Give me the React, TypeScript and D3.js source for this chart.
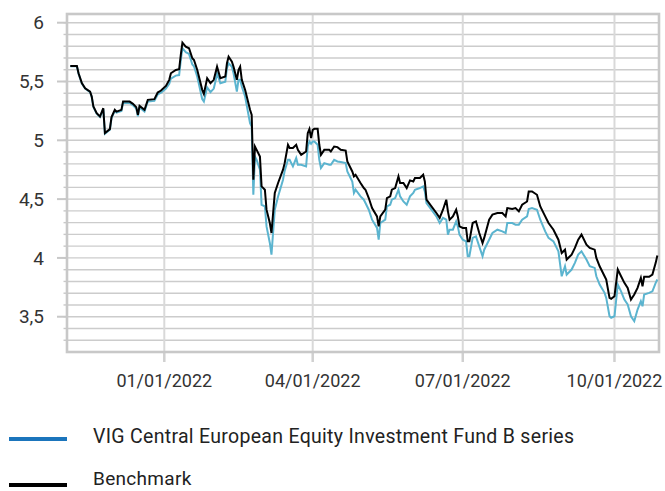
import React from "react";
import * as d3 from "d3";

const dates: string[] = [
"2021-11-05","2021-11-09","2021-11-10","2021-11-12","2021-11-14","2021-11-17","2021-11-18","2021-11-19","2021-11-21","2021-11-23",
"2021-11-25","2021-11-26","2021-11-29","2021-11-30","2021-12-02","2021-12-03","2021-12-06","2021-12-07","2021-12-11","2021-12-13",
"2021-12-15","2021-12-16","2021-12-17","2021-12-20","2021-12-22","2021-12-26","2021-12-28","2021-12-30","2022-01-02","2022-01-04",
"2022-01-05","2022-01-08","2022-01-10","2022-01-11","2022-01-12","2022-01-14","2022-01-16","2022-01-18","2022-01-19","2022-01-21",
"2022-01-24","2022-01-25","2022-01-27","2022-01-29","2022-01-31","2022-02-01","2022-02-02","2022-02-04","2022-02-07","2022-02-08",
"2022-02-09","2022-02-11","2022-02-12","2022-02-14","2022-02-15","2022-02-16","2022-02-17","2022-02-19","2022-02-22","2022-02-23",
"2022-02-24","2022-02-25","2022-02-26","2022-02-28","2022-03-01","2022-03-03","2022-03-04","2022-03-06","2022-03-07","2022-03-09",
"2022-03-11","2022-03-14","2022-03-15","2022-03-17","2022-03-18","2022-03-20","2022-03-22","2022-03-23","2022-03-25","2022-03-28",
"2022-03-29","2022-03-30","2022-03-31","2022-04-01","2022-04-02","2022-04-04","2022-04-05","2022-04-06","2022-04-08","2022-04-11",
"2022-04-12","2022-04-14","2022-04-16","2022-04-18","2022-04-21","2022-04-22","2022-04-25","2022-04-26","2022-04-27","2022-04-30",
"2022-05-02","2022-05-03","2022-05-05","2022-05-07","2022-05-10","2022-05-11","2022-05-12","2022-05-15","2022-05-16","2022-05-18",
"2022-05-19","2022-05-21","2022-05-23","2022-05-24","2022-05-26","2022-05-28","2022-05-30","2022-06-01","2022-06-02","2022-06-05",
"2022-06-07","2022-06-08","2022-06-09","2022-06-12","2022-06-15","2022-06-17","2022-06-19","2022-06-21","2022-06-22","2022-06-23",
"2022-06-25","2022-06-27","2022-06-28","2022-06-29","2022-07-01","2022-07-03","2022-07-04","2022-07-05","2022-07-07","2022-07-09",
"2022-07-11","2022-07-13","2022-07-14","2022-07-17","2022-07-19","2022-07-22","2022-07-25","2022-07-27","2022-07-28","2022-07-31",
"2022-08-02","2022-08-04","2022-08-06","2022-08-09","2022-08-10","2022-08-12","2022-08-15","2022-08-17","2022-08-20","2022-08-22",
"2022-08-25","2022-08-28","2022-08-30","2022-09-01","2022-09-02","2022-09-05","2022-09-07","2022-09-09","2022-09-11","2022-09-14",
"2022-09-16","2022-09-19","2022-09-20","2022-09-22","2022-09-25","2022-09-26","2022-09-28","2022-09-29","2022-10-01","2022-10-03",
"2022-10-05","2022-10-07","2022-10-09","2022-10-11","2022-10-13","2022-10-15","2022-10-17","2022-10-18","2022-10-19","2022-10-22",
"2022-10-24","2022-10-26","2022-10-27"
];

const benchmark: number[] = [
5.632,5.632,5.570,5.486,5.443,5.414,5.372,5.287,5.231,5.202,
5.273,5.061,5.095,5.197,5.259,5.244,5.259,5.329,5.329,5.310,
5.282,5.216,5.293,5.259,5.344,5.350,5.406,5.423,5.463,5.514,
5.570,5.598,5.604,5.726,5.830,5.796,5.783,5.698,5.683,5.598,
5.429,5.395,5.528,5.486,5.514,5.570,5.626,5.528,5.542,5.655,
5.711,5.669,5.626,5.514,5.598,5.626,5.514,5.429,5.259,5.216,
4.665,4.947,4.919,4.862,4.608,4.580,4.410,4.297,4.212,4.552,
4.637,4.750,4.806,4.962,4.934,4.934,4.962,4.919,4.877,4.905,
5.061,5.095,5.019,5.089,5.098,5.098,4.962,4.877,4.919,4.919,
4.905,4.947,4.942,4.919,4.913,4.820,4.735,4.693,4.707,4.637,
4.594,4.580,4.509,4.424,4.353,4.268,4.353,4.410,4.509,4.523,
4.580,4.594,4.693,4.637,4.637,4.594,4.659,4.650,4.679,4.679,
4.707,4.650,4.495,4.438,4.382,4.340,4.410,4.495,4.396,4.325,
4.353,4.410,4.353,4.268,4.255,4.255,4.141,4.141,4.297,4.311,
4.212,4.127,4.170,4.325,4.368,4.382,4.382,4.353,4.424,4.416,
4.424,4.396,4.452,4.480,4.565,4.565,4.537,4.438,4.353,4.297,
4.240,4.155,4.042,4.070,3.986,4.028,4.085,4.155,4.198,4.113,
4.085,4.070,4.000,3.929,3.844,3.816,3.660,3.652,3.674,3.901,
3.844,3.788,3.745,3.646,3.689,3.745,3.830,3.759,3.839,3.839,
3.858,3.958,4.020
];

const fund: number[] = [
5.630,5.630,5.567,5.482,5.440,5.410,5.368,5.283,5.227,5.198,
5.268,5.056,5.090,5.190,5.250,5.235,5.250,5.320,5.318,5.298,
5.270,5.205,5.280,5.245,5.330,5.335,5.390,5.405,5.440,5.480,
5.525,5.550,5.555,5.680,5.783,5.750,5.735,5.645,5.630,5.540,
5.350,5.330,5.450,5.410,5.440,5.499,5.570,5.486,5.499,5.613,
5.655,5.626,5.570,5.414,5.514,5.514,5.457,5.372,5.146,5.117,
4.537,4.862,4.834,4.750,4.452,4.438,4.268,4.127,4.028,4.410,
4.523,4.665,4.740,4.834,4.834,4.778,4.849,4.792,4.792,4.778,
4.947,4.990,4.970,4.990,4.990,4.962,4.834,4.764,4.806,4.792,
4.792,4.834,4.820,4.815,4.806,4.735,4.650,4.552,4.580,4.523,
4.495,4.467,4.410,4.325,4.255,4.155,4.297,4.325,4.438,4.452,
4.495,4.509,4.580,4.523,4.480,4.452,4.523,4.552,4.580,4.594,
4.608,4.565,4.467,4.410,4.353,4.297,4.340,4.325,4.198,4.240,
4.240,4.311,4.268,4.198,4.155,4.141,4.014,4.014,4.170,4.183,
4.098,4.014,4.070,4.155,4.212,4.240,4.226,4.212,4.297,4.297,
4.283,4.283,4.325,4.353,4.416,4.424,4.410,4.325,4.226,4.170,
4.141,4.056,3.844,3.929,3.858,3.901,3.958,4.028,4.056,3.986,
3.929,3.915,3.844,3.773,3.703,3.660,3.504,3.491,3.504,3.773,
3.716,3.646,3.604,3.504,3.462,3.561,3.632,3.589,3.689,3.703,
3.716,3.788,3.816
];

const xTickDates: string[] = ["2022-01-01", "2022-04-01", "2022-07-01", "2022-10-01"];
const xTickLabels: string[] = ["01/01/2022", "04/01/2022", "07/01/2022", "10/01/2022"];
const yMajorTicks: number[] = [3.5, 4, 4.5, 5, 5.5, 6];
const yTickLabels: string[] = ["3,5", "4", "4,5", "5", "5,5", "6"];
const yMinorTicks: number[] = [3.3, 3.4, 3.5, 3.6, 3.7, 3.8, 3.9, 4.0, 4.1, 4.2, 4.3, 4.4, 4.5, 4.6, 4.7, 4.8, 4.9, 5.0, 5.1, 5.2, 5.3, 5.4, 5.5, 5.6, 5.7, 5.8, 5.9, 6.0];
const seriesNames: string[] = ["VIG Central European Equity Investment Fund B series", "Benchmark"];

const W = 665;
const H = 491;
const L = 67, R = 659, T = 14, B = 352;
const FONT = "Roboto, 'Noto Sans', sans-serif";

export default function App() {
  const parse = d3.timeParse("%Y-%m-%d");
  const x = d3.scaleTime()
    .domain([parse("2021-11-03") as Date, parse("2022-10-28") as Date])
    .range([L, R]);
  const y = d3.scaleLinear().domain([3.2, 6.074]).range([B, T]);

  const pts = dates.map((d, i) => ({ date: parse(d) as Date, f: fund[i], b: benchmark[i] }));
  const lineF = d3.line<any>().x((d) => x(d.date)).y((d) => y(d.f));
  const lineB = d3.line<any>().x((d) => x(d.date)).y((d) => y(d.b));

  const grid = "#cccccc";
  const border = "#c8c8c8";

  return (
    <svg width={W} height={H} style={{ position: "absolute", left: 0, top: 0, background: "#fff" }}>
      {yMinorTicks.map((v) => (
        <line key={"g" + v} x1={L} x2={R} y1={y(v)} y2={y(v)} stroke={grid} strokeWidth={1.4} />
      ))}
      {yMinorTicks.map((v) => (
        <line key={"mt" + v} x1={L - 3.5} x2={L} y1={y(v)} y2={y(v)} stroke={border} strokeWidth={1.4} />
      ))}
      {yMajorTicks.map((v) => (
        <line key={"Mt" + v} x1={L - 10} x2={L} y1={y(v)} y2={y(v)} stroke={border} strokeWidth={2} />
      ))}
      {xTickDates.map((d) => {
        const xx = x(parse(d) as Date);
        return (
          <g key={"v" + d}>
            <line x1={xx} x2={xx} y1={T} y2={B} stroke="#d9d9d9" strokeWidth={2} />
            <line x1={xx} x2={xx} y1={B} y2={B + 10} stroke="#d0d0d0" strokeWidth={2.5} />
          </g>
        );
      })}
      <rect x={L} y={T} width={R - L} height={B - T} fill="none" stroke={border} strokeWidth={2.6} />

      <path d={lineF(pts) || ""} fill="none" stroke="#5bb4cf" strokeWidth={2} strokeLinejoin="miter" />
      <path d={lineB(pts) || ""} fill="none" stroke="#000000" strokeWidth={2} strokeLinejoin="miter" />

      {yMajorTicks.map((v, i) => (
        <text key={"yl" + v} x={44} y={y(v)} dy="0.35em" textAnchor="end" fontFamily={FONT} fontSize={19} fill="#333">
          {yTickLabels[i]}
        </text>
      ))}
      {xTickDates.map((d, i) => (
        <text key={"xl" + d} x={x(parse(d) as Date)} y={387} textAnchor="middle" fontFamily={FONT} fontSize={18} fill="#333">
          {xTickLabels[i]}
        </text>
      ))}

      <line x1={9} x2={67} y1={439} y2={439} stroke="#1b75bc" strokeWidth={4} />
      <text x={93} y={443} fontFamily={FONT} fontSize={19.5} letterSpacing={0.3} fill="#222">{seriesNames[0]}</text>
      <line x1={9} x2={67} y1={485} y2={485} stroke="#000" strokeWidth={4} />
      <text x={93} y={485} fontFamily={FONT} fontSize={19} letterSpacing={0.3} fill="#222">{seriesNames[1]}</text>
    </svg>
  );
}
